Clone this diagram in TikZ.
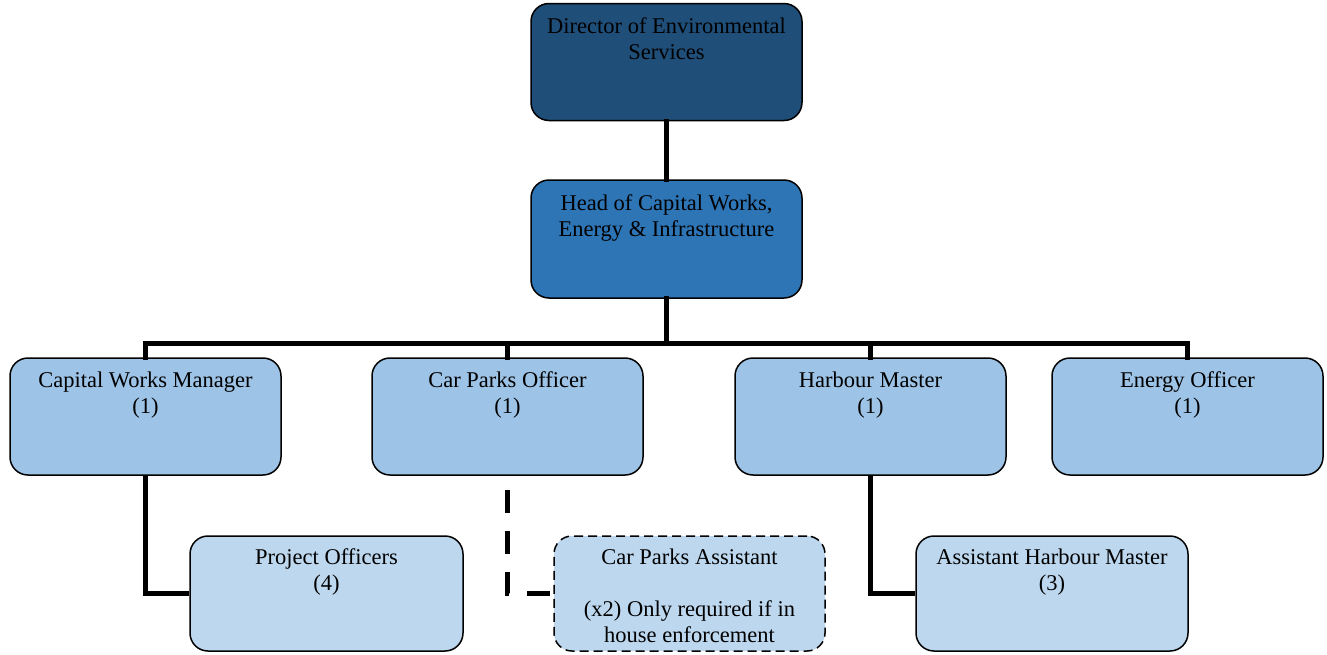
\documentclass[tikz,border=0pt]{standalone}
\usepackage{fontspec}
\setmainfont{Liberation Serif}
\definecolor{navydir}{RGB}{31, 78, 121}
\definecolor{headblue}{RGB}{46, 117, 182}
\definecolor{midblue}{RGB}{157, 195, 230}
\definecolor{paleblue}{RGB}{189, 215, 238}
\usepackage{tikz}
\usetikzlibrary{positioning, calc}

\newcommand{\boxlines}[1]{\parbox[t][94pt][t]{265pt}{\centering\strut #1}}

\tikzset{
  orgbox/.style={draw=black, line width=1.5pt, rounded corners=18pt, minimum width=271pt, minimum height=117pt, inner sep=0pt, font=\fontsize{22.5}{26}\selectfont, text=black},
  lowbox/.style={orgbox, fill=paleblue, minimum height=115pt},
  link/.style={line width=5pt, line cap=rect},
  optlink/.style={line width=5pt, dash pattern=on 23pt off 18pt, dash phase=27pt}
}

\begin{document}
\begin{tikzpicture}[x=1pt, y=-1pt]
  \useasboundingbox (0,0) rectangle (1327,654);

  % Top of the tree
  \node[orgbox, fill=navydir] (director) at (666.5, 62) {\boxlines{Director of Environmental\\Services}};
  \node[orgbox, fill=headblue, minimum height=118pt] (head) at (666.5, 239) {\boxlines{Head of Capital Works,\\Energy \& Infrastructure}};
  \draw[link] (director) -- (head);

  % Second row
  \node[orgbox, fill=midblue] (capworks) at (145.5, 416.5) {\boxlines{Capital Works Manager\\(1)}};
  \node[orgbox, fill=midblue] (carparks) at (507.5, 416.5) {\boxlines{Car Parks Officer\\(1)}};
  \node[orgbox, fill=midblue] (harbour) at (870.5, 416.5) {\boxlines{Harbour Master\\(1)}};
  \node[orgbox, fill=midblue] (energy) at (1187.5, 416.5) {\boxlines{Energy Officer\\(1)}};

  % Bus line
  \coordinate (bus) at (0, 343);
  \draw[link] (head.south) -- (head |- bus);
  \draw[link] (capworks.north) -- (capworks |- bus) -| (energy.north);
  \draw[link] (carparks |- bus) -- (carparks.north);
  \draw[link] (harbour |- bus) -- (harbour.north);

  % Third row
  \node[lowbox, minimum width=273pt] (projects) at (326.5, 593.5) {\boxlines{Project Officers\\(4)}};
  \node[lowbox, dash pattern=on 9pt off 5pt] (cpassist) at (689.5, 593.5) {\boxlines{Car Parks Assistant\\[26pt](x2) Only required if in\\house enforcement}};
  \node[lowbox, minimum width=272pt] (asstharbour) at (1052, 593.5) {\boxlines{Assistant Harbour Master\\(3)}};

  \draw[link, line cap=butt] (capworks.south) |- (projects.west);
  \draw[optlink] (carparks.south) |- (cpassist.west);
  \draw[link, line cap=butt] (harbour.south) |- (asstharbour.west);
\end{tikzpicture}
\end{document}
